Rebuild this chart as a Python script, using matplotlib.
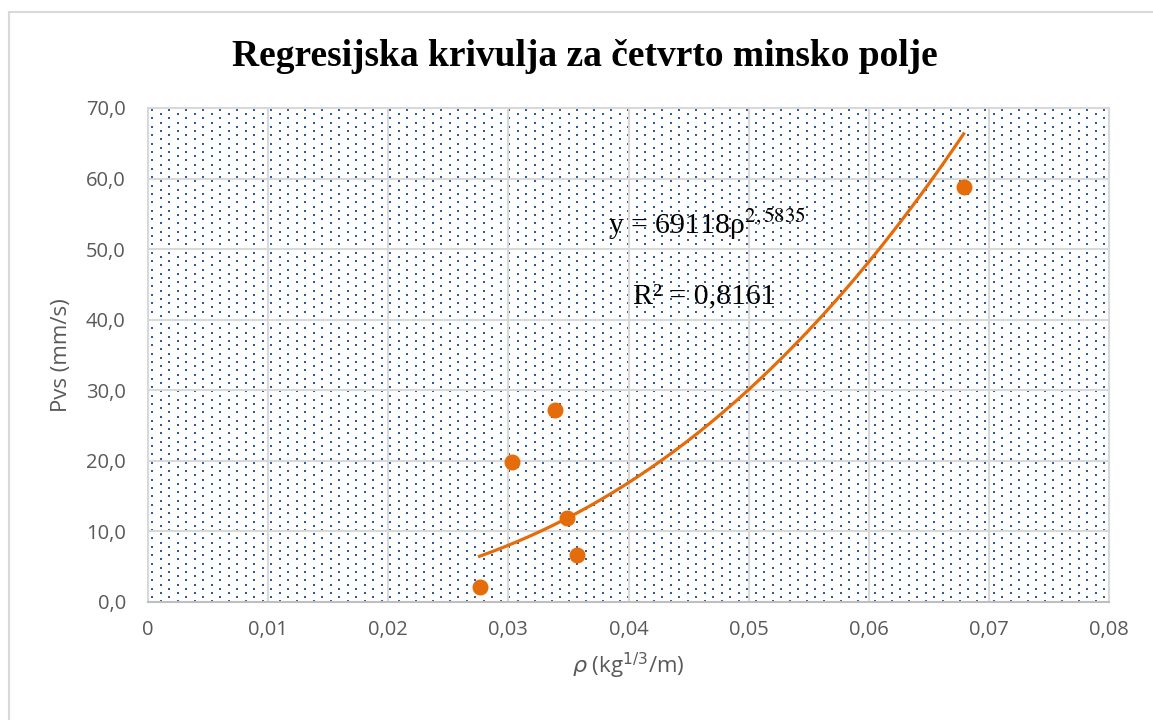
import matplotlib
matplotlib.use("Agg")
import matplotlib.pyplot as plt
from matplotlib.lines import Line2D
import numpy as np

# measured points
rho = [0.0276, 0.0303, 0.0339, 0.0349, 0.0357, 0.0679]
pvs = [2.1, 19.9, 27.2, 11.9, 6.6, 58.8]

# power trend from the chart label
coef_a = 69118
coef_b = 2.5835
r2_text = "0,8161"

xticks = [0, 0.01, 0.02, 0.03, 0.04, 0.05, 0.06, 0.07, 0.08]
yticks = [0, 10, 20, 30, 40, 50, 60, 70]

orange = "#e46c0a"
grey_txt = "#595959"
grid_c = "#d9d9d9"

W, H, DPI = 1153, 720, 100
fig = plt.figure(figsize=(W / DPI, H / DPI), dpi=DPI)

# chart area border (only top/left visible in the crop)
fig.add_artist(Line2D([9 / W, 9 / W], [0, 1 - 12 / H], transform=fig.transFigure,
                      color=grid_c, linewidth=1.5))
fig.add_artist(Line2D([9 / W, 1], [1 - 12 / H, 1 - 12 / H], transform=fig.transFigure,
                      color=grid_c, linewidth=1.5))

left, right, top, bottom = 148, 1109, 108, 602
ax = fig.add_axes([left / W, 1 - bottom / H, (right - left) / W, (bottom - top) / H])

# dotted pattern background
pw, ph = right - left, bottom - top
dx, dy = 17.0, 4.2
px, py = [], []
row = 0
yy = 2.0
while yy < ph:
    off = 0 if row % 2 == 0 else dx / 2
    xx = 4.0 + off
    while xx < pw:
        px.append(xx / pw)
        py.append(1 - yy / ph)
        xx += dx
    yy += dy
    row += 1
ax.scatter(px, py, s=1.3, marker="s", color="#2e5c9a", linewidths=0,
           transform=ax.transAxes, zorder=0.5, clip_on=True)

ax.set_xlim(0, 0.08)
ax.set_ylim(0, 70)
ax.set_xticks(xticks)
ax.set_yticks(yticks)
ax.set_xticklabels([("0" if t == 0 else f"{t:.2f}".replace(".", ",")) for t in xticks])
ax.set_yticklabels([f"{t:.1f}".replace(".", ",") for t in yticks])
ax.tick_params(length=0, labelsize=14.5, labelcolor=grey_txt)
ax.tick_params(axis="x", pad=13)
ax.tick_params(axis="y", pad=16)
for lab in ax.get_xticklabels() + ax.get_yticklabels():
    lab.set_fontfamily("Open Sans")

ax.grid(True, color=grid_c, linewidth=1.5, zorder=1)
ax.set_axisbelow(True)
for s in ["top", "right", "left"]:
    ax.spines[s].set_color(grid_c)
    ax.spines[s].set_linewidth(1.5)
ax.spines["bottom"].set_color("#bfbfbf")
ax.spines["bottom"].set_linewidth(1.5)

# trend curve
xs = np.linspace(min(rho), max(rho), 200)
ax.plot(xs, coef_a * xs ** coef_b, color=orange, linewidth=2.3, zorder=3)
ax.plot(rho, pvs, "o", color=orange, markersize=10.5, zorder=4)

ax.text(0.03833, 52.2, r"y = 69118ρ$^{2,5835}$", fontfamily="Liberation Serif",
        math_fontfamily="stix", fontsize=21.5, va="baseline", ha="left", zorder=5)
ax.text(0.0404, 42.3, "R² = " + r2_text, fontfamily="Liberation Serif",
        fontsize=21.5, va="baseline", ha="left", zorder=5)

fig.text(585 / W, 1 - 57 / H, "Regresijska krivulja za četvrto minsko polje",
         fontfamily="Liberation Serif", fontweight="bold", fontsize=27,
         ha="center", va="center")

ax.set_xlabel(r"$\rho$ (kg$^{1/3}$/m)", fontsize=16, color=grey_txt,
              fontfamily="Open Sans", math_fontfamily="dejavusans", labelpad=8)
ax.set_ylabel("Pvs (mm/s)", fontsize=16, color=grey_txt, fontfamily="Open Sans",
              labelpad=10)

fig.savefig("out.png", dpi=DPI)
